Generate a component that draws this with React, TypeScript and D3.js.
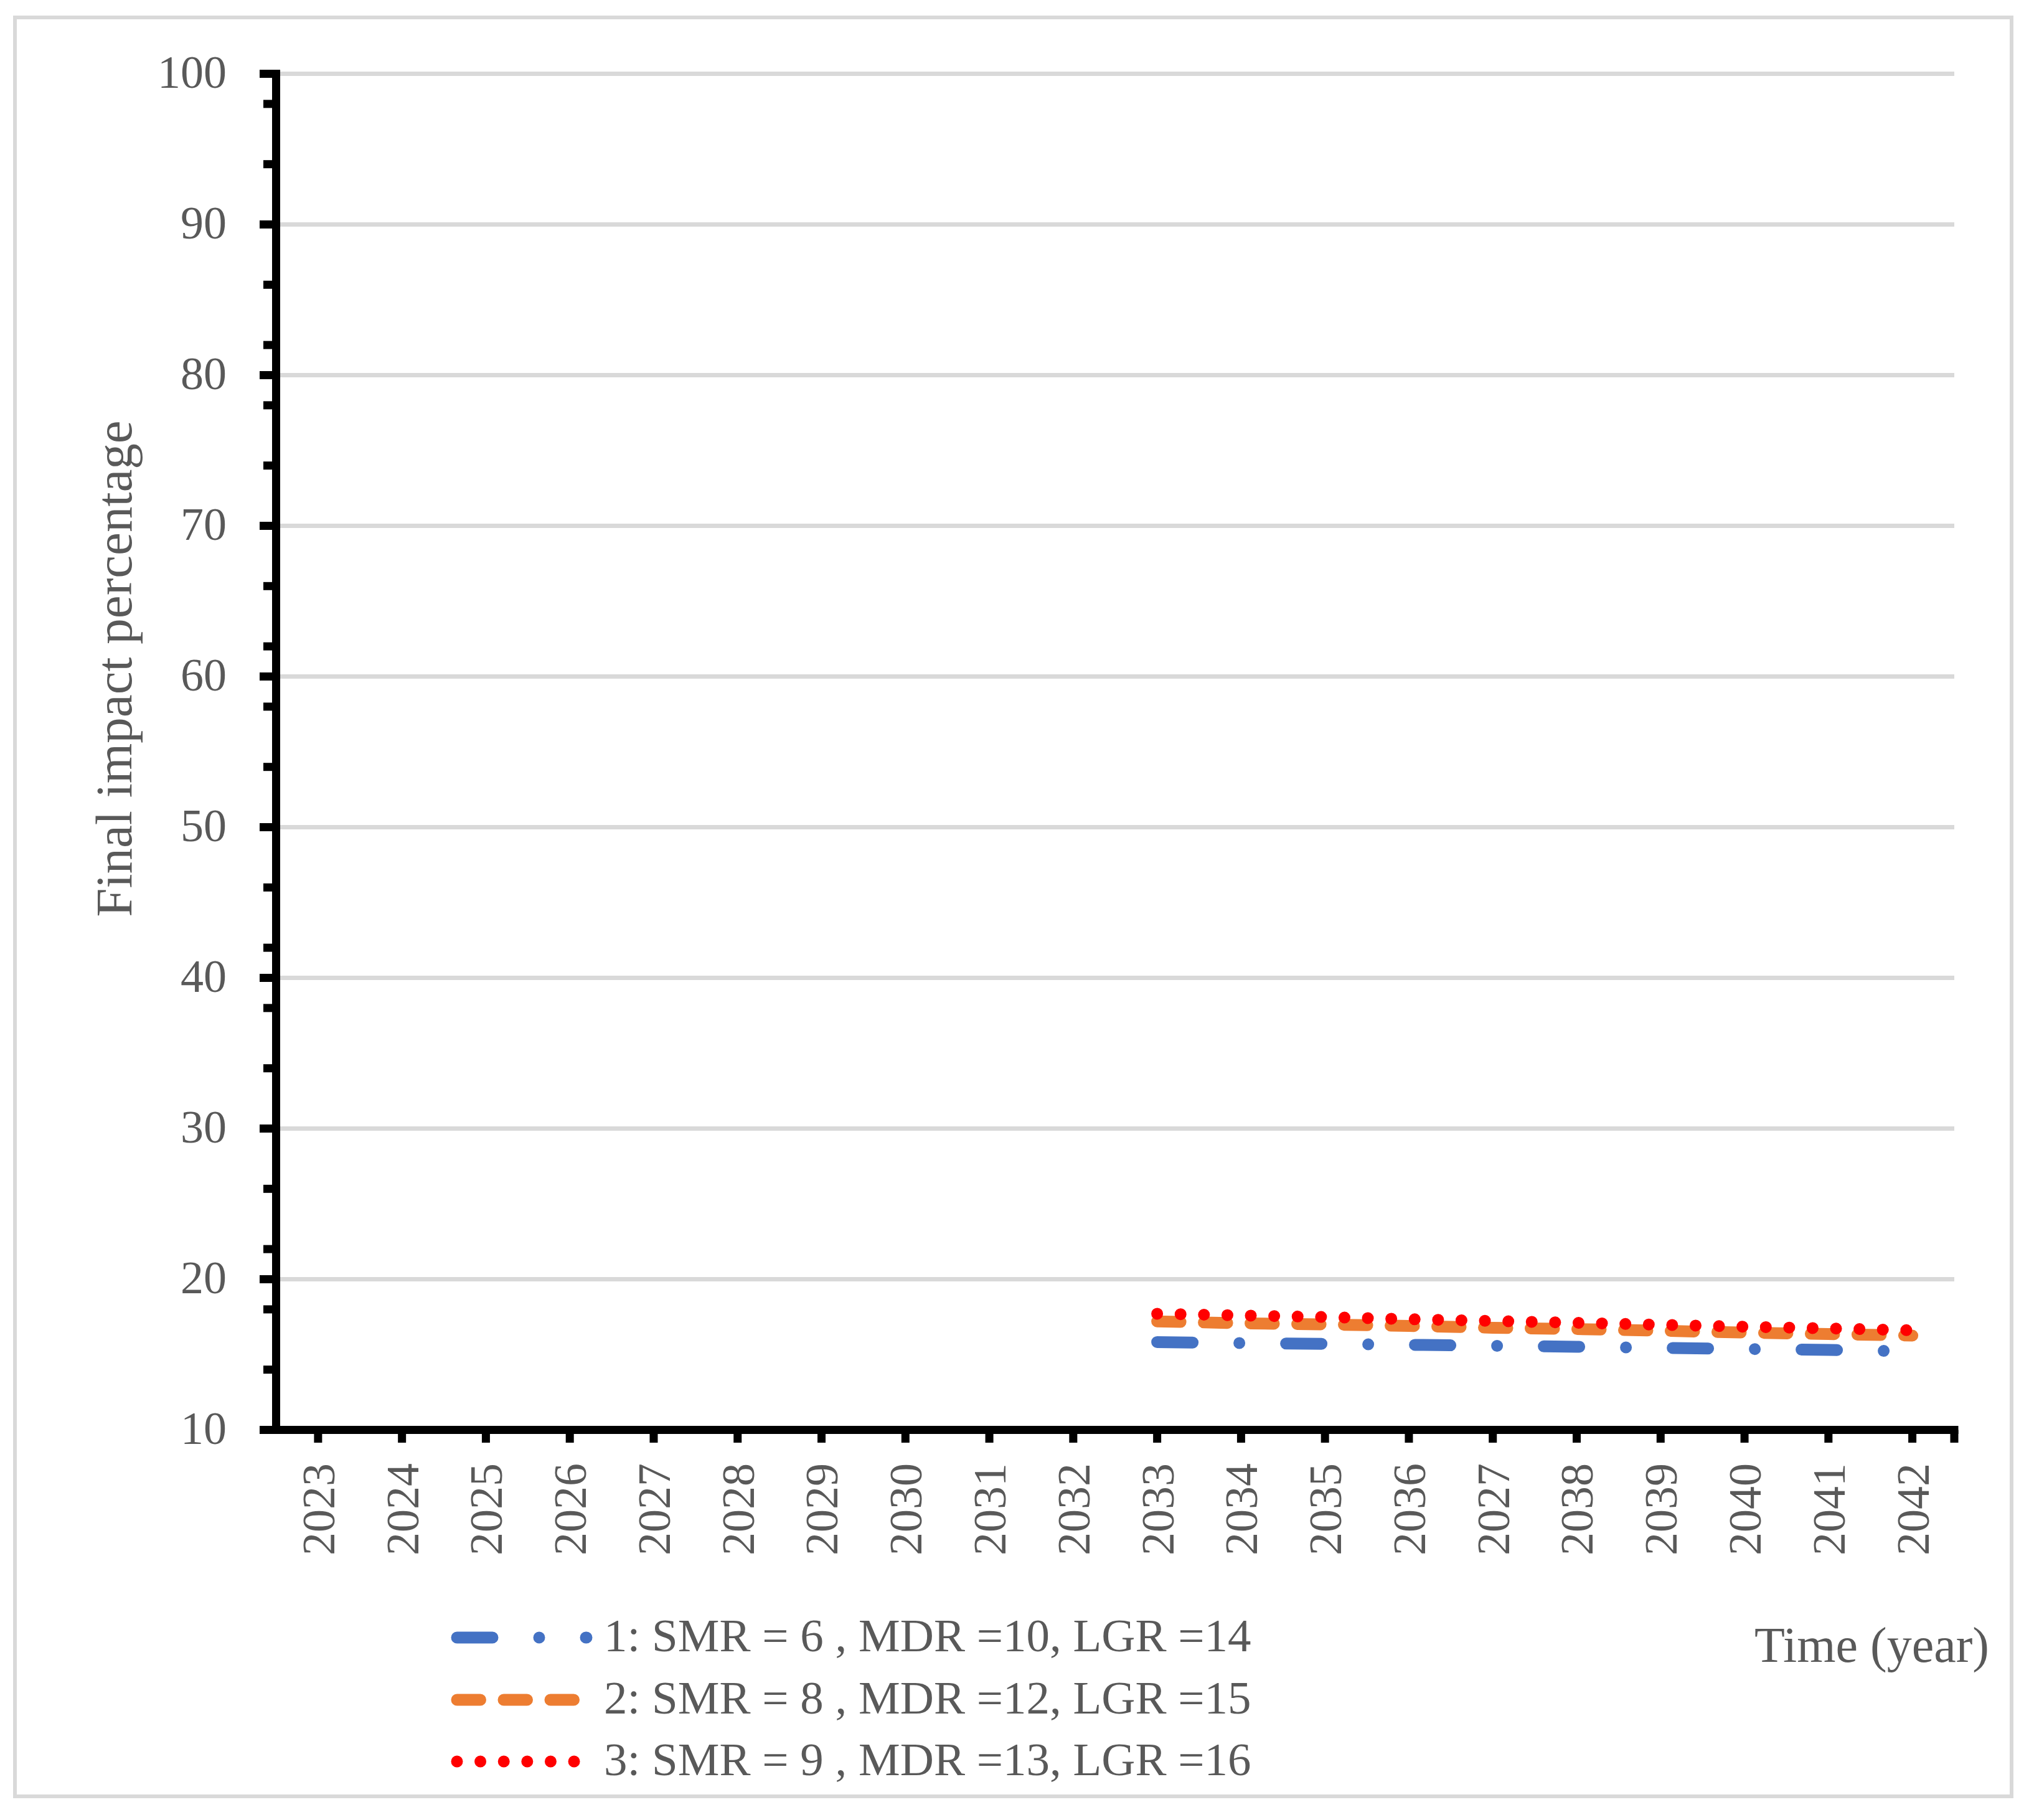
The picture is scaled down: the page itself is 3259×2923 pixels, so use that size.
import React from 'react';
import * as d3 from 'd3';

const yearLabels = ['2023','2024','2025','2026','2027','2028','2029','2030','2031','2032','2033','2034','2035','2036','2027','2038','2039','2040','2041','2042'];
const seriesStart = 10;
const series1 = [15.83, 15.76, 15.71, 15.65, 15.58, 15.52, 15.45, 15.37, 15.31, 15.21];
const series2 = [17.20, 17.08, 17.00, 16.90, 16.78, 16.69, 16.58, 16.46, 16.36, 16.26];
const series3 = [17.71, 17.60, 17.49, 17.35, 17.23, 17.11, 16.98, 16.85, 16.74, 16.61];
const seriesNames = ['1: SMR = 6 , MDR =10, LGR =14', '2: SMR = 8 , MDR =12, LGR =15', '3: SMR = 9 , MDR =13, LGR =16'];
const seriesColors = ['#4472C4', '#ED7D31', '#FF0000'];
const seriesDash = ['57 75 0.01 75', '37.5 37.5', '0.01 37.6'];
const yMajorTicks = [10, 20, 30, 40, 50, 60, 70, 80, 90, 100];
const yTitle = 'Final impact percentage';
const xTitle = 'Time (year)';

const W = 3259;
const H = 2923;
const FONT = "'Liberation Serif', 'Times New Roman', serif";
const TEXT = '#595959';

export default function App() {
  const x = d3.scaleBand<number>().domain(d3.range(yearLabels.length)).range([443.5, 3139]).padding(0);
  const cx = (i: number) => (x(i) as number) + x.bandwidth() / 2;
  const y = d3.scaleLinear().domain([10, 100]).range([2296.5, 118.5]);
  const minorTicks = d3.range(10, 101, 4).filter((v) => v % 10 !== 0);
  const allSeries = [series1, series2, series3];
  const line = d3.line<number>().x((_, i) => cx(seriesStart + i)).y((d) => y(d));
  const legendY = [2630, 2730, 2829];

  return (
    <svg width={W} height={H} style={{ position: 'absolute', left: 0, top: 0, display: 'block', background: '#fff' }} fontFamily={FONT}>
      <rect x={0} y={0} width={W} height={H} fill="#fff" />
      <rect x={24} y={28} width={3207} height={2857} fill="none" stroke="#D9D9D9" strokeWidth={6} />
      {/* gridlines */}
      {yMajorTicks.filter((v) => v > 10).map((v) => (
        <line key={'g' + v} x1={450} x2={3139} y1={y(v)} y2={y(v)} stroke="#D9D9D9" strokeWidth={7} />
      ))}
      {/* series */}
      {allSeries.map((s, k) => (
        <path key={'s' + k} d={line(s) as string} fill="none" stroke={seriesColors[k]} strokeWidth={19}
          strokeDasharray={seriesDash[k]} strokeLinecap="round" strokeLinejoin="round" />
      ))}
      {/* y axis */}
      <line x1={443.5} x2={443.5} y1={y(100) - 6.5} y2={y(10) + 6.5} stroke="#000" strokeWidth={13} />
      {yMajorTicks.map((v) => (
        <line key={'ym' + v} x1={417} x2={443.5} y1={y(v)} y2={y(v)} stroke="#000" strokeWidth={13} />
      ))}
      {minorTicks.map((v) => (
        <line key={'yn' + v} x1={423} x2={443.5} y1={y(v)} y2={y(v)} stroke="#000" strokeWidth={13} />
      ))}
      {yMajorTicks.map((v) => (
        <text key={'yl' + v} x={364} y={y(v)} dy="0.3em" textAnchor="end" fontSize={74} fill={TEXT}>{v}</text>
      ))}
      {/* x axis */}
      <line x1={417} x2={3145.5} y1={y(10)} y2={y(10)} stroke="#000" strokeWidth={13} />
      {yearLabels.map((_, i) => (
        <line key={'xt' + i} x1={cx(i)} x2={cx(i)} y1={y(10)} y2={2317} stroke="#000" strokeWidth={13} />
      ))}
      <line x1={3139} x2={3139} y1={y(10)} y2={2317} stroke="#000" strokeWidth={13} />
      {yearLabels.map((lab, i) => (
        <text key={'xl' + i} transform={`translate(${cx(i)},2350) rotate(-90)`} dy="0.35em" textAnchor="end" fontSize={74} fill={TEXT}>{lab}</text>
      ))}
      {/* titles */}
      <text transform="translate(211,1074) rotate(-90)" textAnchor="middle" fontSize={83} fill={TEXT}>{yTitle}</text>
      <text x={2818} y={2669} fontSize={80} fill={TEXT}>{xTitle}</text>
      {/* legend */}
      {seriesNames.map((name, k) => (
        <g key={'lg' + k}>
          <line x1={734} x2={942} y1={legendY[k]} y2={legendY[k]} stroke={seriesColors[k]} strokeWidth={19}
            strokeDasharray={seriesDash[k]} strokeLinecap="round" />
          <text x={970} y={legendY[k] + 22} fontSize={75} fill={TEXT}>{name}</text>
        </g>
      ))}
    </svg>
  );
}
